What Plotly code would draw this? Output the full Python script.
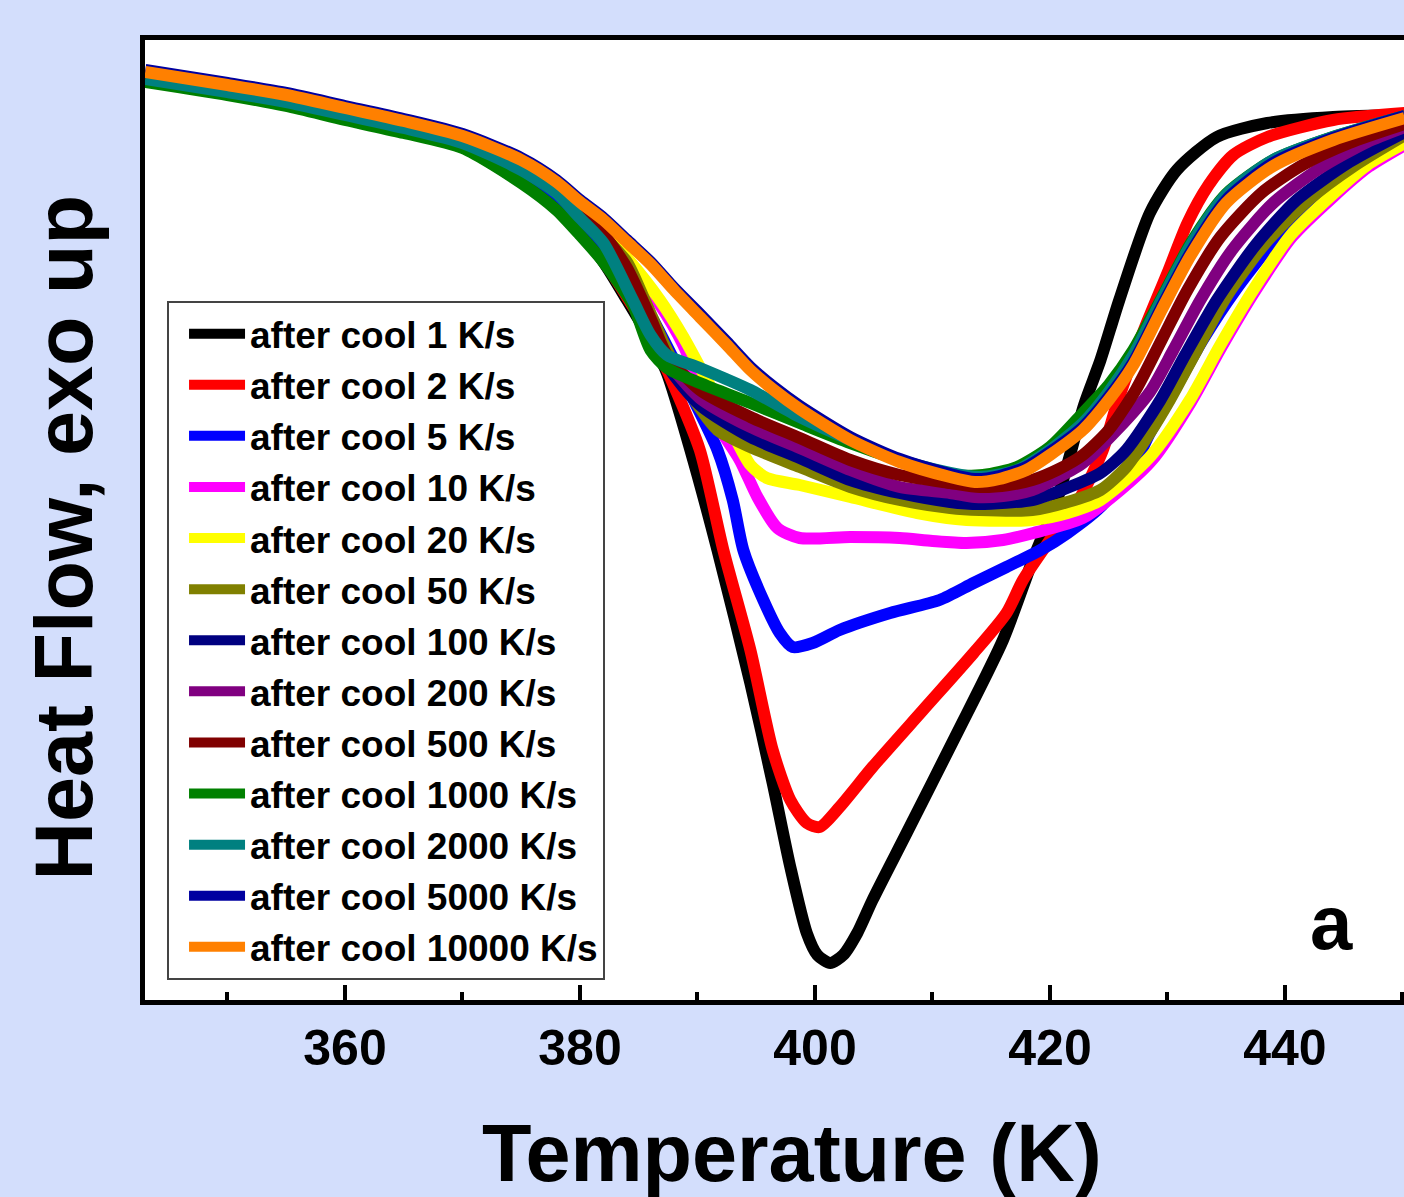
import plotly.graph_objects as go

# ---------------- data (Temperature in K, heat flow in arbitrary units, exo up) ----------------
names = ["after cool 1 K/s", "after cool 2 K/s", "after cool 5 K/s", "after cool 10 K/s",
         "after cool 20 K/s", "after cool 50 K/s", "after cool 100 K/s", "after cool 200 K/s",
         "after cool 500 K/s", "after cool 1000 K/s", "after cool 2000 K/s", "after cool 5000 K/s",
         "after cool 10000 K/s"]
colors = ["#000000", "#FF0000", "#0000FF", "#FF00FF", "#FFFF00", "#808000", "#000080",
          "#800080", "#800000", "#008000", "#008080", "#0000A0", "#FF8000"]

T_1 = [343, 350, 355, 360, 365, 370, 375, 378, 380, 382, 384, 386, 387.4, 389.4, 391.7, 394.5, 396.4,
       397.9, 399.3, 400.2, 401.3, 402.4, 403.6, 404.9, 407.8, 412.1, 416.0, 418.6, 420.6,
       422.9, 424.3, 425.9, 428.5, 430.8, 434.2, 438.5, 444.1, 450.2]
Y_1 = [9.20, 9.07, 8.96, 8.82, 8.69, 8.53, 8.18, 7.92, 7.68, 7.38, 7.00, 6.60, 6.27, 5.50, 4.50, 3.17,
       2.17, 1.33, 0.67, 0.45, 0.37, 0.45, 0.67, 1.00, 1.67, 2.67, 3.60, 4.42, 5.00, 5.95, 6.40,
       7.00, 7.87, 8.30, 8.63, 8.77, 8.83, 8.85]

T_2 = [343, 350, 355, 360, 365, 370, 375, 378, 380, 382, 384, 386, 387.9, 390.2, 392.2, 394.5, 396.4,
       397.9, 399.3, 400.4, 402.1, 404.9, 409.2, 413.5, 416.3, 417.7, 420.0, 422.6, 424.5, 425.8,
       428.0, 430.0, 431.7, 433.5, 435.6, 438.5, 444.1, 450.2]
Y_2 = [9.20, 9.07, 8.96, 8.82, 8.69, 8.53, 8.18, 7.93, 7.70, 7.40, 7.03, 6.65, 6.17, 5.50, 4.50, 3.50,
       2.50, 2.00, 1.77, 1.73, 1.93, 2.33, 2.90, 3.47, 3.87, 4.20, 4.60, 5.03, 5.50, 6.00, 6.70, 7.27,
       7.77, 8.15, 8.45, 8.63, 8.80, 8.87]

T_5 = [343, 350, 355, 360, 365, 370, 375, 378, 380, 382, 384, 386, 388, 389.8, 391.7, 393.0, 393.9,
       395.6, 397.0, 398.1, 399.8, 402.1, 406.4, 410.6, 413.5, 416.3, 419.2, 421.5, 424.3, 427.1,
       428.5, 430.6, 433.0, 435.8, 439.5, 443.5, 447.0, 450.2]
Y_5 = [9.22, 9.10, 8.99, 8.86, 8.73, 8.58, 8.28, 8.03, 7.80, 7.53, 7.22, 6.85, 6.40, 5.97, 5.50, 5.00,
       4.50, 4.00, 3.67, 3.53, 3.57, 3.70, 3.87, 4.00, 4.17, 4.33, 4.50, 4.67, 4.93, 5.33, 5.67, 6.10,
       6.60, 7.10, 7.65, 8.10, 8.40, 8.67]

T_10 = [343, 350, 355, 360, 365, 370, 375, 378, 380, 382, 384, 386.8, 388.8, 390.2, 391.7, 393.6,
        395.1, 396.8, 398.7, 403.0, 407.2, 410.0, 412.9, 416.0, 418.6, 422.8, 426.0, 428.7, 432.0,
        434.6, 437.4, 440.6, 444.1, 447.1, 450.2]
Y_10 = [9.24, 9.12, 9.01, 8.88, 8.75, 8.60, 8.32, 8.08, 7.87, 7.62, 7.38, 6.95, 6.55, 6.15, 5.75,
        5.40, 5.03, 4.72, 4.62, 4.63, 4.62, 4.59, 4.57, 4.60, 4.67, 4.82, 5.10, 5.40, 5.98, 6.53,
        7.08, 7.63, 8.03, 8.33, 8.55]

T_20 = [343, 350, 355, 360, 365, 370, 375, 378, 380, 382, 384, 386.8, 388.8, 390.2, 391.7, 393.0,
        394.5, 395.9, 398.7, 403.0, 408.7, 412.9, 418.5, 421.5, 424.3, 428.5, 431.9, 434.5, 437.3,
        440.5, 444.0, 447.0, 450.2]
Y_20 = [9.25, 9.13, 9.02, 8.89, 8.76, 8.61, 8.34, 8.11, 7.90, 7.67, 7.42, 7.00, 6.63, 6.33, 6.00,
        5.67, 5.35, 5.22, 5.15, 5.03, 4.87, 4.80, 4.80, 4.87, 5.00, 5.43, 6.00, 6.55, 7.10, 7.65,
        8.05, 8.35, 8.57]

T_50 = [343, 350, 355, 360, 365, 370, 375, 378, 380, 382, 384, 385.5, 387, 388.5, 390.2, 391.7,
        394.5, 398.7, 403.0, 407.2, 411.5, 414.0, 418.5, 421.5, 424.3, 426.5, 428.5, 430.2, 432.5,
        435.0, 438.2, 442.0, 446.0, 450.2]
Y_50 = [9.25, 9.13, 9.02, 8.89, 8.76, 8.61, 8.33, 8.10, 7.88, 7.64, 7.38, 7.00, 6.60, 6.25, 5.92,
        5.70, 5.53, 5.33, 5.13, 5.00, 4.92, 4.90, 4.90, 4.98, 5.10, 5.33, 5.67, 6.00, 6.50, 7.03,
        7.55, 8.00, 8.35, 8.65]

T_100 = [343, 350, 355, 360, 365, 370, 375, 378, 380, 382, 384, 386, 387.4, 390.2, 394.5, 398.7,
         403.0, 407.2, 411.5, 414.0, 418.5, 421.0, 424.3, 426.5, 429.4, 431.5, 434.2, 437.5, 441.0,
         445.5, 450.2]
Y_100 = [9.25, 9.13, 9.02, 8.89, 8.76, 8.61, 8.33, 8.10, 7.88, 7.63, 7.25, 6.75, 6.35, 5.95, 5.63,
         5.42, 5.20, 5.07, 4.98, 4.96, 5.00, 5.10, 5.27, 5.50, 6.00, 6.45, 7.00, 7.55, 8.00, 8.38,
         8.68]

T_200 = [343, 350, 355, 360, 365, 370, 375, 378, 380, 382, 384, 386, 387.4, 390.2, 394.5, 398.7,
         403.0, 407.2, 411.5, 413.6, 416.0, 418.5, 420.6, 422.8, 425.7, 428.5, 430.5, 432.8, 435.5,
         439.0, 443.0, 447.0, 450.2]
Y_200 = [9.25, 9.13, 9.02, 8.89, 8.76, 8.61, 8.34, 8.11, 7.89, 7.64, 7.28, 6.78, 6.40, 6.02, 5.73,
         5.52, 5.30, 5.13, 5.07, 5.03, 5.04, 5.10, 5.22, 5.37, 5.70, 6.08, 6.50, 7.00, 7.50, 7.97,
         8.32, 8.58, 8.73]

T_500 = [343, 350, 355, 360, 365, 370, 375, 378, 380, 382, 384, 386, 387.4, 390.2, 394.5, 398.7,
         403.0, 407.2, 411.5, 414.0, 416.5, 418.5, 420.6, 422.8, 425.0, 427.3, 429.5, 431.7, 434.5,
         438.0, 441.5, 445.5, 450.2]
Y_500 = [9.25, 9.13, 9.02, 8.89, 8.76, 8.61, 8.34, 8.11, 7.90, 7.66, 7.32, 6.82, 6.45, 6.10, 5.83,
         5.62, 5.40, 5.25, 5.17, 5.13, 5.15, 5.20, 5.30, 5.45, 5.70, 6.10, 6.60, 7.10, 7.63, 8.07,
         8.35, 8.57, 8.76]

T_1000 = [343, 350, 355, 360, 365, 370, 375, 378, 380, 382, 384.5, 386, 387.4, 390.2, 394.5, 398.7,
          403.0, 407.2, 411.5, 414.3, 417.2, 420.0, 422.8, 425.0, 427.1, 429.5, 432.0, 435.0, 439.0,
          444.1, 450.2]
Y_1000 = [9.18, 9.05, 8.94, 8.80, 8.67, 8.52, 8.17, 7.90, 7.65, 7.38, 6.95, 6.50, 6.32, 6.17, 5.97,
          5.77, 5.57, 5.40, 5.25, 5.25, 5.33, 5.53, 5.87, 6.15, 6.50, 7.02, 7.57, 8.06, 8.40, 8.63,
          8.84]

T_2000 = [343, 350, 355, 360, 365, 370, 375, 378, 380, 382, 384.5, 386, 387.4, 390.2, 394.5, 398.7,
          403.0, 407.2, 411.5, 414.0, 417.2, 420.0, 422.8, 425.0, 427.1, 429.5, 432.0, 435.0, 439.0,
          444.1, 450.2]
Y_2000 = [9.21, 9.08, 8.98, 8.85, 8.72, 8.57, 8.30, 8.07, 7.82, 7.57, 7.00, 6.65, 6.45, 6.32, 6.10,
          5.83, 5.60, 5.40, 5.27, 5.23, 5.30, 5.50, 5.77, 6.08, 6.45, 7.00, 7.55, 8.05, 8.40, 8.63,
          8.84]

T_5000 = [343, 350, 355, 360, 365, 370, 375, 378, 380, 382, 384, 386, 388, 390.2, 392.5, 394.5,
          396.5, 398.7, 403.0, 407.2, 411.5, 413.6, 415.7, 418.0, 420.0, 422.8, 425.0, 427.1, 429.5,
          432.0, 435.0, 439.0, 444.1, 450.2]
Y_5000 = [9.30, 9.17, 9.07, 8.94, 8.81, 8.66, 8.42, 8.20, 8.00, 7.82, 7.60, 7.38, 7.12, 6.86, 6.58,
          6.33, 6.13, 5.94, 5.63, 5.41, 5.26, 5.21, 5.24, 5.33, 5.48, 5.73, 6.03, 6.38, 6.93, 7.48,
          8.00, 8.37, 8.62, 8.84]

T_10000 = [343, 350, 355, 360, 365, 370, 375, 378, 380, 382, 384, 386, 388, 390.2, 392.5, 394.5,
           396.5, 398.7, 403.0, 407.2, 411.5, 413.6, 415.7, 418.0, 420.0, 422.8, 425.0, 427.1, 429.5,
           432.0, 435.0, 439.0, 444.1, 450.2]
Y_10000 = [9.28, 9.15, 9.05, 8.92, 8.79, 8.64, 8.40, 8.18, 7.98, 7.80, 7.58, 7.36, 7.10, 6.83, 6.55,
           6.30, 6.10, 5.91, 5.60, 5.38, 5.23, 5.18, 5.21, 5.30, 5.45, 5.70, 6.00, 6.35, 6.90, 7.45,
           7.97, 8.34, 8.60, 8.82]

T_all = [T_1, T_2, T_5, T_10, T_20, T_50, T_100, T_200, T_500, T_1000, T_2000, T_5000, T_10000]
Y_all = [Y_1, Y_2, Y_5, Y_10, Y_20, Y_50, Y_100, Y_200, Y_500, Y_1000, Y_2000, Y_5000, Y_10000]

x_ticks = [360, 380, 400, 420, 440]
x_range = [342.98, 450.13]
y_range = [0, 9.6]

# ---------------- figure ----------------
FONT = "Liberation Sans, Arial, sans-serif"
fig = go.Figure()
for name, col, T, Y in zip(names, colors, T_all, Y_all):
    fig.add_trace(go.Scatter(x=T, y=Y, mode="lines", name=name,
                             line=dict(color=col, width=12, shape="spline", smoothing=0.7)))

fig.update_layout(
    width=1404, height=1197,
    margin=dict(l=145, r=0, t=40, b=197, pad=0),
    paper_bgcolor="#d3defc", plot_bgcolor="white",
    showlegend=True,
    legend=dict(x=0.0175, y=0.728, xanchor="left", yanchor="top",
                bgcolor="white", bordercolor="#444444", borderwidth=2,
                font=dict(family=FONT, size=37, color="black", weight="bold"),
                itemwidth=56, tracegroupgap=0, indentation=15),
    xaxis=dict(range=x_range, showline=True, linewidth=5, linecolor="black", mirror=True,
               ticks="inside", ticklen=15, tickwidth=4, tickcolor="black",
               tickvals=x_ticks,
               minor=dict(ticks="inside", ticklen=8, tickwidth=4, tickcolor="black",
                          tick0=350, dtick=10),
               tickfont=dict(family=FONT, size=50, color="black", weight="bold"),
               showgrid=False, zeroline=False),
    yaxis=dict(range=y_range, showline=True, linewidth=5, linecolor="black", mirror=False,
               ticks="", showticklabels=False, showgrid=False, zeroline=False),
    annotations=[
        dict(text="Temperature (K)", xref="paper", yref="paper", x=0.514, y=-0.159,
             xanchor="center", yanchor="middle", showarrow=False,
             font=dict(family=FONT, size=81, color="black", weight="bold")),
        dict(text="Heat Flow, exo up", xref="paper", yref="paper", x=-0.0643, y=0.4818,
             xanchor="center", yanchor="middle", showarrow=False, textangle=-90,
             font=dict(family=FONT, size=81, color="black", weight="bold")),
        dict(text="a", xref="x", yref="y", x=444.0, y=0.78,
             xanchor="center", yanchor="middle", showarrow=False,
             font=dict(family=FONT, size=76, color="black", weight="bold")),
    ],
)

fig.write_html("out.html")
